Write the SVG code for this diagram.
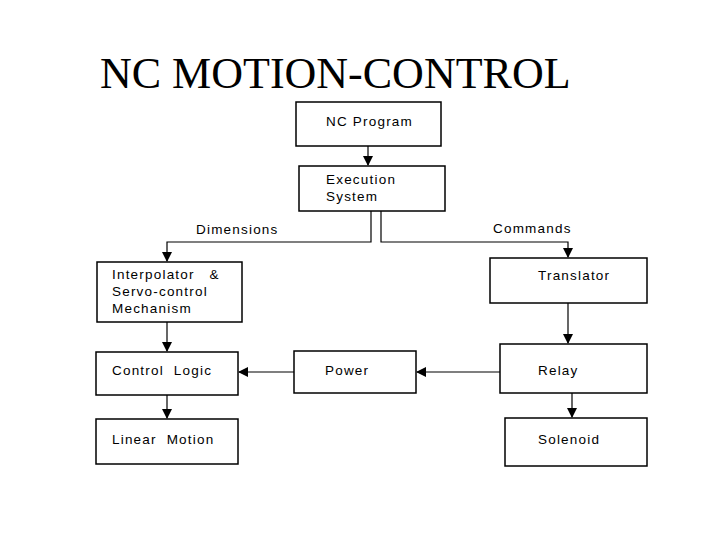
<svg xmlns="http://www.w3.org/2000/svg" width="720" height="540" viewBox="0 0 720 540">
<style>
.b{fill:#fff;stroke:#000;stroke-width:1.5}
.t{font-family:"Liberation Sans",Arial,sans-serif;font-size:13.5px;letter-spacing:1.2px;white-space:pre}
.c{fill:none;stroke:#000;stroke-width:1.2}
</style>
<defs><marker id="a" markerWidth="10" markerHeight="10" refX="9" refY="5" orient="auto" markerUnits="userSpaceOnUse"><path d="M0,0L10,5L0,10z"/></marker></defs>
<rect width="720" height="540" fill="#fff"/>
<text x="100" y="88" font-family="Liberation Serif,serif" font-size="44">NC MOTION-CONTROL</text>
<g id="connectors" class="c">
<line x1="368" y1="146" x2="368" y2="165" marker-end="url(#a)"/>
<polyline points="371,211 371,242 167,242 167,261" marker-end="url(#a)"/>
<polyline points="381,211 381,242 568,242 568,257" marker-end="url(#a)"/>
<line x1="568" y1="303" x2="568" y2="343" marker-end="url(#a)"/>
<line x1="167" y1="322" x2="167" y2="351" marker-end="url(#a)"/>
<line x1="167" y1="395" x2="167" y2="418" marker-end="url(#a)"/>
<line x1="572" y1="393" x2="572" y2="417" marker-end="url(#a)"/>
<line x1="500" y1="372" x2="417" y2="372" marker-end="url(#a)"/>
<line x1="294" y1="372" x2="239" y2="372" marker-end="url(#a)"/>
</g>
<text class="t" x="196" y="234">Dimensions</text>
<text class="t" x="493" y="233">Commands</text>
<g id="nc"><rect class="b" x="296" y="102" width="145" height="44"/><text class="t" x="326" y="126">NC Program</text></g>
<g id="exec"><rect class="b" x="299" y="166" width="146" height="45"/><text class="t" x="326" y="184">Execution</text><text class="t" x="326" y="201">System</text></g>
<g id="interp"><rect class="b" x="97" y="262" width="145" height="60"/><text class="t" x="112" y="279" xml:space="preserve">Interpolator   &amp;</text><text class="t" x="112" y="296">Servo-control</text><text class="t" x="112" y="313">Mechanism</text></g>
<g id="trans"><rect class="b" x="490" y="258" width="157" height="45"/><text class="t" x="538" y="280">Translator</text></g>
<g id="logic"><rect class="b" x="96" y="352" width="142" height="43"/><text class="t" x="112" y="375" xml:space="preserve">Control  Logic</text></g>
<g id="power"><rect class="b" x="294" y="351" width="122" height="42"/><text class="t" x="325" y="375">Power</text></g>
<g id="relay"><rect class="b" x="500" y="344" width="147" height="49"/><text class="t" x="538" y="375">Relay</text></g>
<g id="linear"><rect class="b" x="96" y="419" width="142" height="45"/><text class="t" x="112" y="444" xml:space="preserve">Linear  Motion</text></g>
<g id="sol"><rect class="b" x="505" y="418" width="142" height="48"/><text class="t" x="538" y="444">Solenoid</text></g>
</svg>
